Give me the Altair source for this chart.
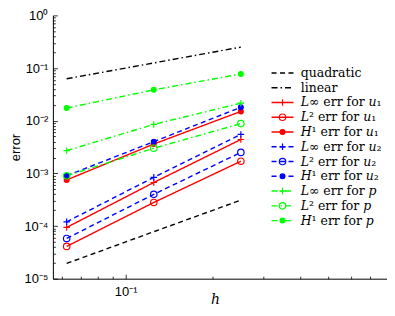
import altair as alt
import pandas as pd

# ---------------- data ----------------
h_vals = [0.0625, 0.125, 0.25]

names = [
    "quadratic", "linear",
    "𝐿∞ err for 𝑢₁", "𝐿² err for 𝑢₁", "𝐻¹ err for 𝑢₁",
    "𝐿∞ err for 𝑢₂", "𝐿² err for 𝑢₂", "𝐻¹ err for 𝑢₂",
    "𝐿∞ err for 𝑝", "𝐿² err for 𝑝", "𝐻¹ err for 𝑝",
]

quadratic = [1.95e-5, 7.8e-5, 3.1e-4]
linear = [0.0625, 0.125, 0.25]
linf_u1 = [9.4e-5, 6.7e-4, 4.4e-3]
l2_u1 = [4.1e-5, 2.8e-4, 1.7e-3]
h1_u1 = [7.5e-4, 3.6e-3, 1.5e-2]
linf_u2 = [1.2e-4, 8.4e-4, 5.5e-3]
l2_u2 = [5.8e-5, 4.0e-4, 2.5e-3]
h1_u2 = [9.0e-4, 4.0e-3, 1.8e-2]
linf_p = [2.7e-3, 8.5e-3, 2.15e-2]
l2_p = [9.0e-4, 3.0e-3, 8.8e-3]
h1_p = [1.74e-2, 3.85e-2, 7.7e-2]

series_vals = [quadratic, linear, linf_u1, l2_u1, h1_u1,
               linf_u2, l2_u2, h1_u2, linf_p, l2_p, h1_p]

# ---------------- styles ----------------
RED, BLUE, GREEN = "#ff0000", "#0000ff", "#00ff00"
line_colors = ["black", "black", RED, RED, RED, BLUE, BLUE, BLUE, GREEN, GREEN, GREEN]
DASH, DASHDOT, SOLID = [5, 3.5], [6, 3, 1.5, 3], [1, 0]
line_dashes = [DASH, DASHDOT, SOLID, SOLID, SOLID, DASH, DASH, DASH, DASHDOT, DASHDOT, DASHDOT]

PLUS = "M-1,0H1M0,-1V1"
DOT = "M0.75,0A0.75,0.75,0,1,1,-0.75,0A0.75,0.75,0,1,1,0.75,0Z"
NONE = "M0,0"
marker_shapes = [NONE, NONE] + [PLUS, "circle", DOT] * 3
marker_fills = ["transparent", "transparent"]
for c in [RED, BLUE, GREEN]:
    marker_fills += ["transparent", "transparent", c]

rows = []
for n, vals in zip(names, series_vals):
    for hv, v in zip(h_vals, vals):
        rows.append({"series": n, "h": hv, "err": v})
df = pd.DataFrame(rows)
df_pts = df[~df["series"].isin(names[:2])]

# ---------------- axes ----------------
y_major = [1e-5, 1e-4, 1e-3, 1e-2, 1e-1, 1.0]
y_all = []
for e in range(-5, 0):
    for k in range(1, 10):
        y_all.append(k * 10.0 ** e)
y_all.append(1.0)
x_major = [0.1]
x_all = [0.06, 0.07, 0.08, 0.09, 0.1, 0.2, 0.3, 0.4, 0.5, 0.6, 0.7]

sup_expr = ("'10' + (round(log(datum.value)/LN10) < 0 ? '⁻' : '') + "
            "['⁰','¹','²','³','⁴','⁵','⁶'][abs(round(log(datum.value)/LN10))]")
major_test = "abs(log(datum.value)/LN10 - round(log(datum.value)/LN10)) < 0.000001"

W, H = 335, 264
xscale = alt.Scale(type="log", domain=[0.056, 0.8], nice=False)
yscale = alt.Scale(type="log", domain=[1e-5, 1.0], nice=False)

LABEL_FONT = "Liberation Sans"

x_axis_lab = alt.Axis(orient="bottom", values=x_major, labelExpr=sup_expr, ticks=False,
                      domainColor="black", domainWidth=1, labelFont=LABEL_FONT,
                      labelFontSize=13, labelColor="black", labelPadding=7,
                      title="h", titleFont="DejaVu Serif", titleFontStyle="italic",
                      titleFontWeight="normal", titleFontSize=14, titleColor="black",
                      titleX=W / 2 - 5, titleY=25, titleBaseline="alphabetic",
                      titleAlign="center", grid=False)
y_axis_lab = alt.Axis(orient="left", values=y_major, labelExpr=sup_expr, ticks=False,
                      domainColor="black", domainWidth=1, labelFont=LABEL_FONT,
                      labelFontSize=13, labelColor="black", labelPadding=5,
                      title="error", titleFont=LABEL_FONT, titleFontWeight="normal",
                      titleFontSize=13, titleColor="black", titleX=-37, titleY=H / 2,
                      titleAngle=270, titleAlign="center", titleBaseline="middle",
                      grid=False)
tick_size = {"condition": {"test": major_test, "value": 4.5}, "value": 2.5}
x_axis_in = alt.Axis(orient="top", offset=-H, values=x_all, labels=False, domain=False,
                     tickSize=tick_size, tickColor="black", tickWidth=0.8,
                     title=None, grid=False)
y_axis_in = alt.Axis(orient="right", offset=-W, values=y_all, labels=False, domain=False,
                     tickSize=tick_size, tickColor="black", tickWidth=0.8,
                     title=None, grid=False)

# ---------------- legends ----------------
LEG_X, LEG_Y = 224, 51.5
leg_common = dict(labelFont="DejaVu Serif", labelFontSize=12.5, labelColor="black",
                  labelLimit=0, rowPadding=1.8, padding=0, title=None, orient="none",
                  legendX=LEG_X, legendY=LEG_Y, symbolSize=42, labelOffset=12)
line_legend = alt.Legend(symbolType="M-3.4,0H3.4", symbolStrokeWidth=1.4, **leg_common)
point_legend = alt.Legend(symbolStrokeWidth=1.2, labelExpr="' '", **leg_common)

lines = alt.Chart(df).mark_line(strokeWidth=1.4, clip=True).encode(
    x=alt.X("h:Q", scale=xscale, axis=x_axis_lab),
    y=alt.Y("err:Q", scale=yscale, axis=y_axis_lab),
    color=alt.Color("series:N", scale=alt.Scale(domain=names, range=line_colors),
                    legend=line_legend),
    strokeDash=alt.StrokeDash("series:N", scale=alt.Scale(domain=names, range=line_dashes),
                              legend=line_legend),
)

pts = alt.Chart(df_pts).mark_point(size=42, strokeWidth=1.2, opacity=1, clip=True).encode(
    x=alt.X("h:Q", scale=xscale, axis=x_axis_in),
    y=alt.Y("err:Q", scale=yscale, axis=y_axis_in),
    color=alt.Color("series:N", scale=alt.Scale(domain=names, range=line_colors),
                    legend=point_legend),
    shape=alt.Shape("series:N", scale=alt.Scale(domain=names, range=marker_shapes),
                    legend=point_legend),
    fill=alt.Fill("series:N", scale=alt.Scale(domain=names, range=marker_fills),
                  legend=point_legend),
)

chart = alt.layer(lines, pts).resolve_scale(
    x="independent", y="independent", color="independent",
    strokeDash="independent", shape="independent", fill="independent",
).properties(
    width=W, height=H,
    padding={"left": 45, "top": 7, "right": 0, "bottom": 29},
    autosize=alt.AutoSizeParams(type="none"),
).configure_view(stroke=None)

chart.save("out.html", embed_options={"renderer": "svg", "actions": False})
